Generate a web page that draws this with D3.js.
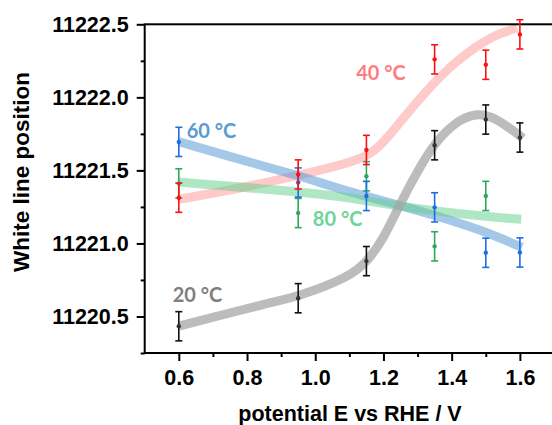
<!DOCTYPE html>
<html>
<head>
<meta charset="utf-8">
<script src="https://cdn.jsdelivr.net/npm/d3@7/dist/d3.min.js"></script>
<style>
  html, body { margin: 0; padding: 0; background: #fff; }
  svg { display: block; }
</style>
</head>
<body>
<svg id="chart" width="552" height="425"></svg>
<script>
// Measured white line positions (eV) vs applied potential, with ±0.1 eV uncertainty
const potential = [0.6, 0.95, 1.15, 1.35, 1.5, 1.6];
const wl20 = [11220.433, 11220.625, 11220.879, 11221.672, 11221.848, 11221.725];
const wl40 = [11221.313, 11221.472, 11221.640, 11222.260, 11222.223, 11222.431];
const wl60 = [11221.695, 11221.417, 11221.325, 11221.247, 11220.936, 11220.938];
const wl80Potential = [0.6, 0.95, 1.15, 1.35, 1.5];
const wl80 = [11221.411, 11221.208, 11221.460, 11220.980, 11221.325];
const errorBar = 0.1;

// Guide-to-the-eye trend lines
const trend20E = [0.6, 0.87, 0.95, 1.102, 1.152, 1.199, 1.249, 1.301, 1.351, 1.41, 1.469, 1.527, 1.609];
const trend20 = [11220.434, 11220.597, 11220.636, 11220.773, 11220.876, 11221.026, 11221.272, 11221.50, 11221.69, 11221.83, 11221.895, 11221.867, 11221.72];
const trend40E = [0.6, 0.779, 0.95, 1.073, 1.152, 1.199, 1.249, 1.298, 1.345, 1.395, 1.445, 1.492, 1.542, 1.592];
const trend40 = [11221.302, 11221.377, 11221.466, 11221.535, 11221.592, 11221.687, 11221.831, 11221.968, 11222.091, 11222.208, 11222.303, 11222.379, 11222.44, 11222.475];
const trend60E = [0.6, 0.838, 0.95, 1.102, 1.249, 1.351, 1.492, 1.606];
const trend60 = [11221.696, 11221.535, 11221.466, 11221.35, 11221.261, 11221.192, 11221.089, 11220.973];
const trend80E = [0.6, 0.838, 1.073, 1.249, 1.492, 1.604];
const trend80 = [11221.42, 11221.375, 11221.329, 11221.249, 11221.185, 11221.165];

const xTicks = [0.6, 0.8, 1.0, 1.2, 1.4, 1.6];
const yTicks = [11220.5, 11221.0, 11221.5, 11222.0, 11222.5];
const seriesLabels = ["20 °C", "40 °C", "60 °C", "80 °C"];

const svg = d3.select("#chart");
const plotLeft = 144.7, plotRight = 554, plotTop = 24.3, plotBottom = 353;

const x = d3.scaleLinear().domain([0.5, 1.7]).range([plotLeft, plotRight]);
const y = d3.scaleLinear().domain([11220.25, 11222.5]).range([plotBottom, plotTop]);

const series = [
  { E: potential, v: wl20, tE: trend20E, t: trend20, mark: "#111", dot: "#333", band: "#a6a6a6", bandOp: 0.75, label: seriesLabels[0], lc: "#7f7f7f", lx: 0.582, ly: 11220.60 },
  { E: potential, v: wl40, tE: trend40E, t: trend40, mark: "#ff1010", dot: "#ff1010", band: "#ff8a8a", bandOp: 0.45, label: seriesLabels[1], lc: "#ff7c80", lx: 1.12, ly: 11222.119 },
  { E: potential, v: wl60, tE: trend60E, t: trend60, mark: "#1c6fe0", dot: "#1c6fe0", band: "#5b9bd5", bandOp: 0.55, label: seriesLabels[2], lc: "#5b9bd5", lx: 0.623, ly: 11221.72 },
  { E: wl80Potential, v: wl80, tE: trend80E, t: trend80, mark: "#2ea85c", dot: "#2ea85c", band: "#5fcf8a", bandOp: 0.5, label: seriesLabels[3], lc: "#6fd49a", lx: 0.993, ly: 11221.12 }
];

const line = d3.line().curve(d3.curveBasis);

// trend bands (drawn underneath the measured points)
const bandOrder = [1, 2, 3, 0];
bandOrder.forEach(i => {
  const s = series[i];
  svg.append("path")
    .attr("d", line(s.tE.map((e, k) => [x(e), y(s.t[k])])))
    .attr("fill", "none")
    .attr("stroke", s.band)
    .attr("stroke-opacity", s.bandOp)
    .attr("stroke-width", 9);
});

// axes frame
const axisColor = "#000";
const font = "'Liberation Sans', Arial, sans-serif";

const yAxis = d3.axisLeft(y).tickValues(yTicks).tickFormat(d3.format(".1f")).tickSize(8).tickPadding(8);
const yMinor = d3.axisLeft(y).tickValues(d3.range(11220.25, 11222.5, 0.5)).tickFormat("").tickSize(4);
const xAxis = d3.axisBottom(x).tickValues(xTicks).tickFormat(d3.format(".1f")).tickSize(8).tickPadding(9);
const xMinor = d3.axisBottom(x).tickValues([0.7, 0.9, 1.1, 1.3, 1.5]).tickFormat("").tickSize(4);

function styleAxis(g) {
  g.select(".domain").remove();
  g.selectAll("line").attr("stroke", axisColor).attr("stroke-width", 2);
  g.selectAll("text").attr("fill", "#000").style("font-family", font).style("font-weight", "bold").style("font-size", "21.5px");
}

svg.append("g").attr("transform", `translate(${plotLeft},0)`).call(yAxis).call(styleAxis);
svg.append("g").attr("transform", `translate(${plotLeft},0)`).call(yMinor).call(styleAxis);
svg.append("g").attr("transform", `translate(0,${plotBottom})`).call(xAxis).call(styleAxis);
svg.append("g").attr("transform", `translate(0,${plotBottom})`).call(xMinor).call(styleAxis);

svg.append("rect")
  .attr("x", plotLeft).attr("y", plotTop)
  .attr("width", plotRight - plotLeft).attr("height", plotBottom - plotTop)
  .attr("fill", "none").attr("stroke", axisColor).attr("stroke-width", 2);

// error bars and points
const cap = 3.5;
[3, 2, 1, 0].forEach(i => {
  const s = series[i];
  const g = svg.append("g");
  s.E.forEach((e, k) => {
    const cx = x(e), y0 = y(s.v[k] - errorBar), y1 = y(s.v[k] + errorBar);
    g.append("line").attr("x1", cx).attr("x2", cx).attr("y1", y0).attr("y2", y1)
      .attr("stroke", s.mark).attr("stroke-width", 1.6);
    [y0, y1].forEach(yy => g.append("line")
      .attr("x1", cx - cap).attr("x2", cx + cap).attr("y1", yy).attr("y2", yy)
      .attr("stroke", s.mark).attr("stroke-width", 1.6));
    g.append("circle").attr("cx", cx).attr("cy", y(s.v[k])).attr("r", 2.2).attr("fill", s.dot);
  });
});

// series labels
series.forEach(s => {
  svg.append("text")
    .attr("x", x(s.lx)).attr("y", y(s.ly))
    .attr("fill", s.lc)
    .style("font-family", "Lato, 'Open Sans', sans-serif")
    .style("font-weight", "bold")
    .style("font-size", "20px")
    .text(s.label);
});

// axis titles
svg.append("text")
  .attr("x", 350).attr("y", 421)
  .attr("text-anchor", "middle")
  .style("font-family", font).style("font-weight", "bold").style("font-size", "21.5px")
  .text("potential E vs RHE / V");

svg.append("text")
  .attr("transform", "translate(29,172) rotate(-90)")
  .attr("text-anchor", "middle")
  .style("font-family", font).style("font-weight", "bold").style("font-size", "22.5px")
  .text("White line position");
</script>
</body>
</html>
